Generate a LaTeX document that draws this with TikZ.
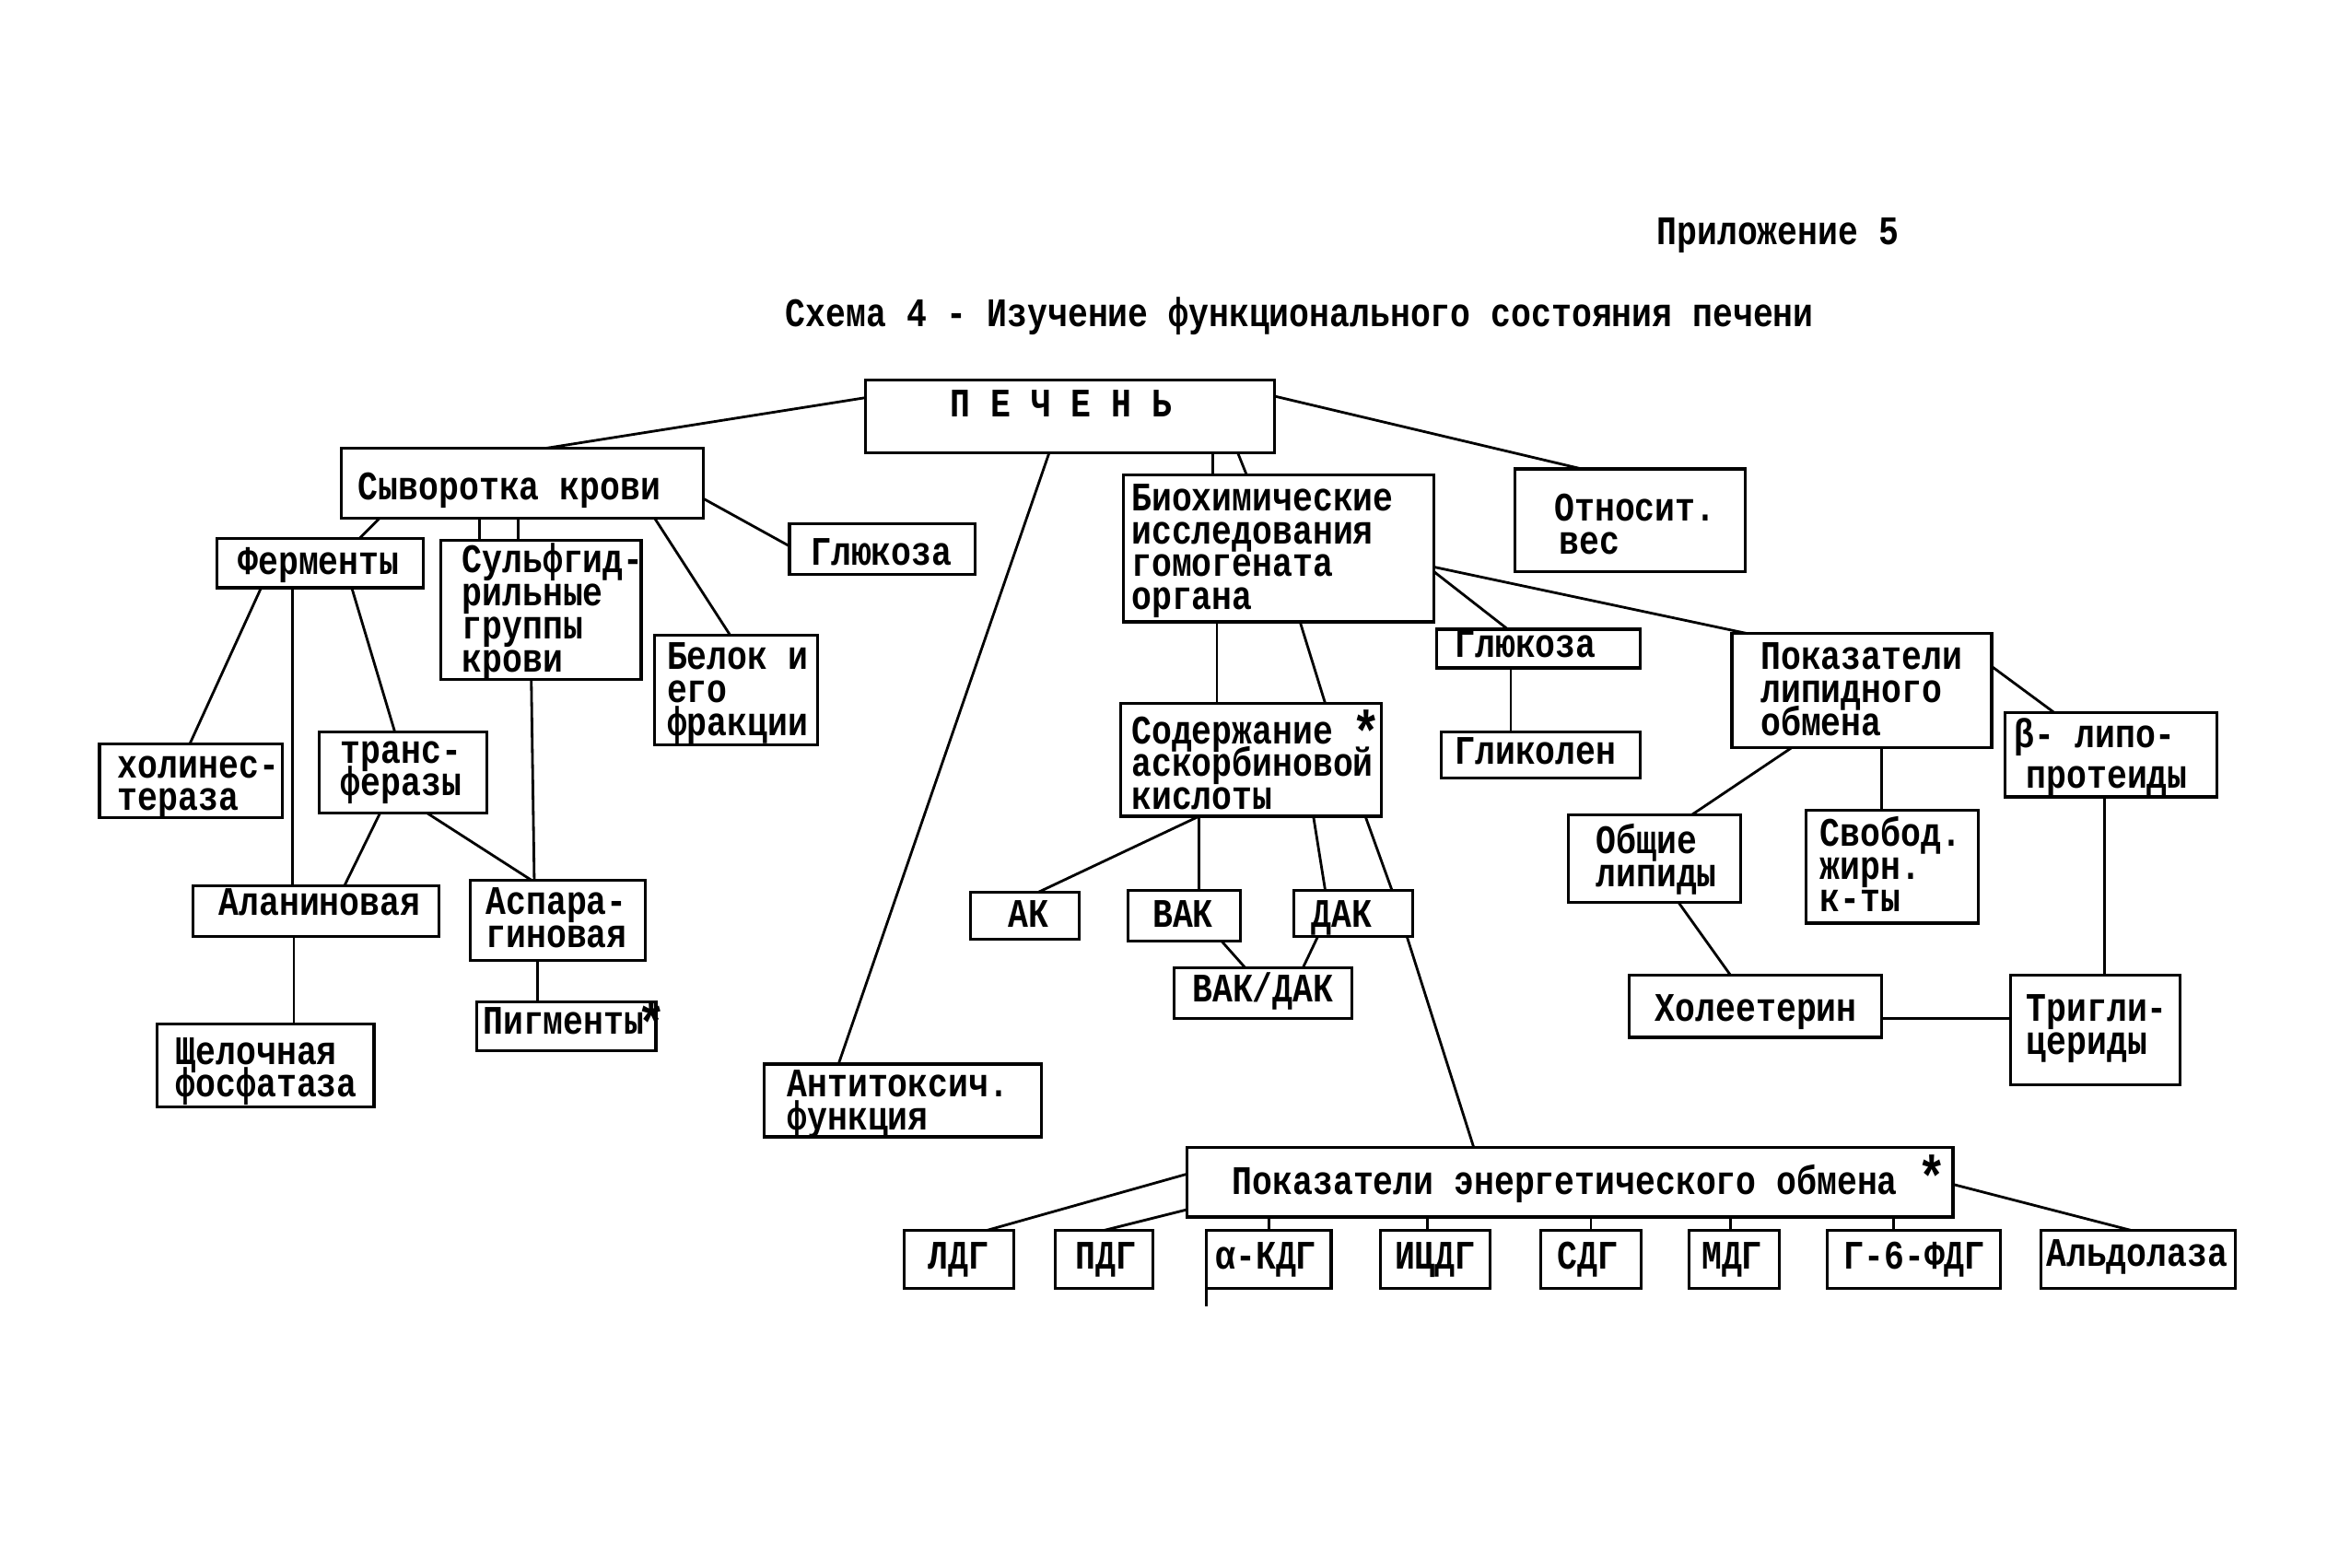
\documentclass[tikz,border=0pt]{standalone}
\usepackage{fontspec}
\newfontfamily\tw{Liberation Mono}[FakeStretch=0.83]
\usetikzlibrary{fit,calc}
\newcommand\ml[1]{\vtop{\baselineskip=10.2pt\lineskiplimit=-50pt\lineskip=0pt\ialign{##\hfil\cr#1\crcr}}}
\newcommand\mkbox[5]{\node[bx, fit={(#2,#3) (#4,#5)}] (#1) {};}
\tikzset{
 bx/.style={draw, line width=0.9pt, inner sep=0pt, outer sep=0pt},
 tx/.style={font=\tw\fontsize{12.5}{10.2}\selectfont\bfseries, inner sep=0pt, anchor=base west},
 tc/.style={tx, anchor=base},
 ln/.style={line width=0.8pt},
 st/.style={font=\tw\fontsize{18}{18}\selectfont\bfseries, inner sep=0pt, anchor=north},
}
\begin{document}
\begin{tikzpicture}[x=0.1611mm,y=-0.1611mm]
\useasboundingbox (0,0) rectangle (1568,1056);
% titles
\node[tx] (tprl) at (1116,165) {Приложение 5};
\node[tx] (ttitle) at (529,220) {Схема 4 - Изучение функционального состояния печени};
% boxes
\mkbox{pech}{583}{256}{859}{305}
\mkbox{syv}{230}{302}{474}{349}
\mkbox{ferm}{146}{363}{285}{396}
\mkbox{sulf}{297}{364}{432}{458}
\mkbox{glL}{532}{353}{657}{387}
\mkbox{bel}{441}{428}{551}{502}
\mkbox{hol}{67}{501}{190}{551}
\mkbox{trans}{215}{493}{328}{548}
\mkbox{alan}{130}{597}{296}{631}
\mkbox{aspa}{317}{593}{435}{647}
\mkbox{pigm}{321}{675}{442}{708}
\mkbox{shch}{106}{690}{252}{746}
\mkbox{anti}{515}{717}{702}{766}
\mkbox{bio}{757}{320}{966}{419}
\mkbox{otn}{1021}{316}{1176}{385}
\mkbox{glR}{968}{424}{1105}{450}
\mkbox{glik}{971}{493}{1105}{524}
\mkbox{sod}{755}{474}{931}{550}
\mkbox{lip}{1167}{427}{1342}{504}
\mkbox{beta}{1351}{480}{1494}{537}
\mkbox{obsh}{1057}{549}{1173}{608}
\mkbox{svob}{1217}{546}{1333}{622}
\mkbox{hol2}{1098}{657}{1268}{699}
\mkbox{trig}{1355}{657}{1469}{731}
\mkbox{ak}{654}{601}{727}{633}
\mkbox{vak}{760}{600}{836}{634}
\mkbox{dak}{872}{600}{952}{631}
\mkbox{vd}{791}{652}{911}{686}
\mkbox{energ}{800}{773}{1316}{820}
\mkbox{ldg}{609}{829}{683}{868}
\mkbox{pdg}{711}{829}{777}{868}
\mkbox{kdg}{813}{829}{897}{868}
\mkbox{icdg}{930}{829}{1004}{868}
\mkbox{sdg}{1038}{829}{1106}{868}
\mkbox{mdg}{1138}{829}{1199}{868}
\mkbox{g6}{1231}{829}{1348}{868}
\mkbox{ald}{1375}{829}{1506}{868}
\draw[ln] (kdg.south west) -- ++(0,12);
% texts
\node[tx] (t-pech) at (640,281) {П Е Ч Е Н Ь};
\node[tx] (t-syv) at (241,337) {Сыворотка крови};
\node[tx] (t-ferm) at (160,387) {Ферменты};
\node[tx] (t-sulf) at (311,386) {\ml{Сульфгид-\cr рильные\cr группы\cr крови}};
\node[tx] (t-glL) at (546,381) {Глюкоза};
\node[tx] (t-bel) at (449,451) {\ml{Белок и\cr его\cr фракции}};
\node[tx] (t-hol) at (79,524) {\ml{холинес-\cr тераза}};
\node[tx] (t-trans) at (229,514) {\ml{транс-\cr феразы}};
\node[tx] (t-alan) at (147,617) {Аланиновая};
\node[tx] (t-aspa) at (327,616) {\ml{Аспара-\cr гиновая}};
\node[tx] (t-pigm) at (325,697) {Пигменты};
\node[tx] (t-shch) at (118,717) {\ml{Щелочная\cr фосфатаза}};
\node[tx] (t-anti) at (530,739) {\ml{Антитоксич.\cr функция}};
\node[tx] (t-bio) at (762,344) {\ml{Биохимические\cr исследования\cr гомогената\cr органа}};
\node[tx] (t-otn) at (1047,351) {\ml{Относит.\cr \kern1.5pt вес}};
\node[tx] (t-glR) at (980,443) {Глюкоза};
\node[tx] (t-glik) at (980,515) {Гликолен};
\node[tx] (t-sod) at (762,501) {\ml{Содержание\cr аскорбиновой\cr кислоты}};
\node[tx] (t-lip) at (1186,451) {\ml{Показатели\cr липидного\cr обмена}};
\node[tx] (t-beta1) at (1357,504) {β- липо-};
\node[tx] (t-beta2) at (1365,531) {протеиды};
\node[tx] (t-obsh) at (1075,575) {\ml{Общие\cr липиды}};
\node[tx] (t-svob) at (1226,570) {\ml{Свобод.\cr жирн.\cr к-ты}};
\node[tx] (t-hol2) at (1115,688) {Холеетерин};
\node[tx] (t-trig) at (1365,688) {\ml{Тригли-\cr цериды}};
\node[tc] (t-ak) at (693,625) {АК};
\node[tc] (t-vak) at (797,625) {ВАК};
\node[tc] (t-dak) at (904,625) {ДАК};
\node[tc] (t-vd) at (851,675) {ВАК/ДАК};
\node[tx] (t-en) at (830,805) {Показатели энергетического обмена};
\node[tc] (t-ldg) at (646,855) {ЛДГ};
\node[tc] (t-pdg) at (745,855) {ПДГ};
\node[tc] (t-kdg) at (853,855) {α-КДГ};
\node[tc] (t-icdg) at (967,855) {ИЦДГ};
\node[tc] (t-sdg) at (1070,855) {СДГ};
\node[tc] (t-mdg) at (1167,855) {МДГ};
\node[tc] (t-g6) at (1290,855) {Г-6-ФДГ};
\node[tc] (t-ald) at (1440,853) {Альдолаза};
% stars
\node[st] (st1) at (439,674) {*};
\node[st] (st2) at (921,478) {*};
\node[st] (st3) at (1302,778) {*};
% connectors
\draw[ln] ($(pech.north west)+(0,12)$) -- ($(syv.north west)+(138,0)$);
\draw[ln] ($(pech.north east)+(0,11)$) -- ($(otn.north west)+(45,0)$);
\draw[ln] ($(pech.south west)+(124,0)$) -- ($(anti.north west)+(50,0)$);
\draw[ln] ($(pech.south west)+(234,0)$) -- ($(bio.north west)+(60,0)$);
\draw[ln] ($(pech.south west)+(251,0)$) -- ($(bio.north west)+(83,0)$);
\draw[ln] ($(syv.south west)+(26,0)$) -- ($(ferm.north west)+(96,0)$);
\draw[ln] ($(syv.south west)+(93,0)$) -- ($(sulf.north west)+(26,0)$);
\draw[ln] ($(syv.south west)+(119,0)$) -- ($(sulf.north west)+(52,0)$);
\draw[ln] ($(syv.south west)+(211,0)$) -- ($(bel.north west)+(51,0)$);
\draw[ln] ($(syv.north east)+(0,34)$) -- ($(glL.north west)+(0,15)$);
\draw[ln] ($(ferm.south west)+(30,0)$) -- ($(hol.north west)+(61,0)$);
\draw[ln] ($(ferm.south west)+(51,0)$) -- ($(alan.north west)+(67,0)$);
\draw[ln] ($(ferm.south west)+(91,0)$) -- ($(trans.north west)+(51,0)$);
\draw[ln] ($(trans.south west)+(41,0)$) -- ($(alan.north west)+(102,0)$);
\draw[ln] ($(trans.south west)+(73,0)$) -- ($(aspa.north west)+(41,0)$);
\draw[ln] ($(sulf.south west)+(61,0)$) -- ($(aspa.north west)+(43,0)$);
\draw[ln] ($(alan.south west)+(68,0)$) -- ($(shch.north west)+(92,0)$);
\draw[ln] ($(aspa.south west)+(45,0)$) -- ($(pigm.north west)+(41,0)$);
\draw[ln] ($(bio.south west)+(63,0)$) -- ($(sod.north west)+(65,0)$);
\draw[ln] ($(bio.south west)+(119,0)$) -- ($(sod.north west)+(138,0)$);
\draw[ln] ($(bio.north east)+(0,65)$) -- ($(glR.north west)+(48,0)$);
\draw[ln] ($(bio.north east)+(0,62)$) -- ($(lip.north west)+(11,0)$);
\draw[ln] ($(glR.south west)+(50,0)$) -- ($(glik.north west)+(47,0)$);
\draw[ln] ($(sod.south west)+(53,0)$) -- ($(ak.north west)+(46,0)$);
\draw[ln] ($(sod.south west)+(53,0)$) -- ($(vak.north west)+(48,0)$);
\draw[ln] ($(sod.south west)+(130,0)$) -- ($(dak.north west)+(21,0)$);
\draw[ln] ($(sod.south west)+(165,0)$) -- ($(dak.north west)+(66,0)$);
\draw[ln] ($(dak.south west)+(76,0)$) -- ($(energ.north west)+(193,0)$);
\draw[ln] ($(vak.south west)+(63,0)$) -- ($(vd.north west)+(48,0)$);
\draw[ln] ($(dak.south west)+(16,0)$) -- ($(vd.north west)+(87,0)$);
\draw[ln] ($(energ.north west)+(0,18)$) -- ($(ldg.north west)+(56,0)$);
\draw[ln] ($(energ.north west)+(0,42)$) -- ($(pdg.north west)+(33,0)$);
\draw[ln] ($(energ.south west)+(55,0)$) -- ($(kdg.north west)+(42,0)$);
\draw[ln] ($(energ.south west)+(162,0)$) -- ($(icdg.north west)+(32,0)$);
\draw[ln] ($(energ.south west)+(272,0)$) -- ($(sdg.north west)+(34,0)$);
\draw[ln] ($(energ.south west)+(366,0)$) -- ($(mdg.north west)+(28,0)$);
\draw[ln] ($(energ.south west)+(476,0)$) -- ($(g6.north west)+(45,0)$);
\draw[ln] ($(energ.north east)+(0,25)$) -- ($(ald.north west)+(61,0)$);
\draw[ln] ($(lip.south west)+(40,0)$) -- ($(obsh.north west)+(83,0)$);
\draw[ln] ($(lip.south west)+(101,0)$) -- ($(svob.north west)+(51,0)$);
\draw[ln] ($(lip.north east)+(0,22)$) -- ($(beta.north west)+(33,0)$);
\draw[ln] ($(beta.south west)+(67,0)$) -- ($(trig.north west)+(63,0)$);
\draw[ln] ($(obsh.south west)+(74,0)$) -- ($(hol2.north west)+(68,0)$);
\draw[ln] ($(hol2.north east)+(0,29)$) -- ($(trig.north west)+(0,29)$);
\end{tikzpicture}
\end{document}
